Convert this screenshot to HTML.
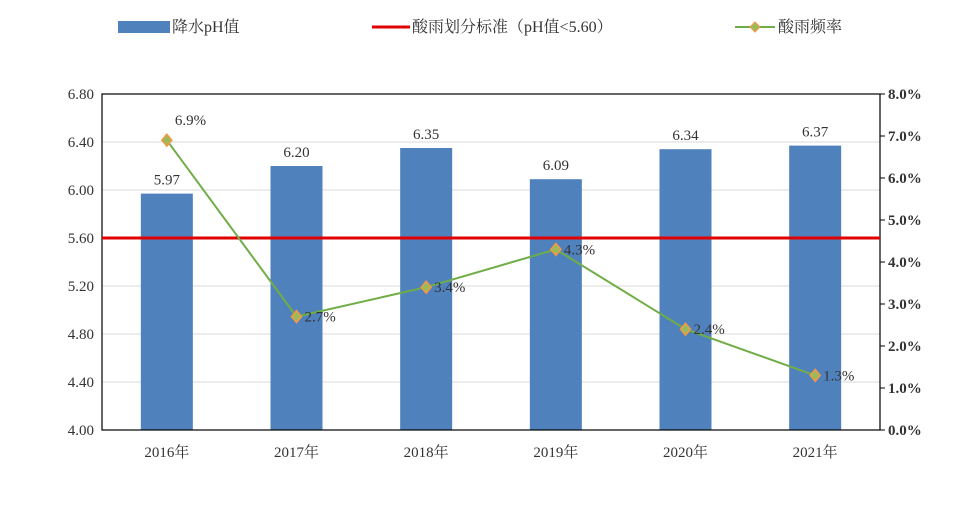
<!DOCTYPE html>
<html><head><meta charset="utf-8"><style>
body{margin:0;background:#fff;}
svg text{font-family:"Liberation Serif","Noto Serif CJK SC",serif;}
</style></head><body>
<svg width="970" height="506" viewBox="0 0 970 506">
<g>
  <g><rect x="118" y="21" width="52" height="12" fill="#4f81bd"/><text x="172" y="32" font-size="16" fill="#333">降水pH值</text></g>
  <g><line x1="372" y1="27" x2="410" y2="27" stroke="#e00000" stroke-width="3"/><text x="412" y="32" font-size="16" fill="#333">酸雨划分标准（pH值&lt;5.60）</text></g>
  <g><line x1="735" y1="27" x2="775" y2="27" stroke="#70ad47" stroke-width="2"/><polygon points="755,22 760,27 755,32 750,27" fill="#9bbb59" stroke="#f79646" stroke-width="1"/><text x="778" y="32" font-size="16" fill="#333">酸雨频率</text></g>
</g>
<g id="grid"></g>
<g id="bars"></g>
<g id="axes"></g>
<g id="line"></g>
</svg>
<script>
const categories=["2016年","2017年","2018年","2019年","2020年","2021年"];
const phValues=[5.97,6.20,6.35,6.09,6.34,6.37];
const freqValues=[6.9,2.7,3.4,4.3,2.4,1.3];
const leftTicks=[4.00,4.40,4.80,5.20,5.60,6.00,6.40,6.80];
const rightTicks=[0,1,2,3,4,5,6,7,8];
const standard=5.60;
const NS="http://www.w3.org/2000/svg";
const X0=102,X1=880,Y0=430,Y1=94;
const yL=v=>Y0-(v-4)/(6.8-4)*(Y0-Y1);
const yR=v=>Y0-v/8*(Y0-Y1);
const bw=(X1-X0)/categories.length;
const xc=i=>X0+bw*(i+0.5);
function mk(tag,attrs,parent,txt){const e=document.createElementNS(NS,tag);for(const k in attrs)e.setAttribute(k,attrs[k]);if(txt!==undefined)e.textContent=txt;parent.appendChild(e);return e;}
const grid=document.getElementById('grid'),bars=document.getElementById('bars'),axes=document.getElementById('axes'),line=document.getElementById('line');
leftTicks.forEach(t=>{
  const g=mk('line',{x1:X0,x2:X1,y1:yL(t),y2:yL(t),stroke:'#d9d9d9','stroke-width':1},grid);
  
  
  const l=mk('text',{x:X0-8,y:yL(t)+5,'font-size':15,'text-anchor':'end',fill:'#333'},axes,t.toFixed(2));
  
  
});
rightTicks.forEach(t=>{
  const l=mk('text',{x:X1+8,y:yR(t)+5,'font-size':15,fill:'#333','font-weight':'bold'},axes,t.toFixed(1)+'%');
  
  
  const tk=mk('line',{x1:X1,x2:X1+5,y1:yR(t),y2:yR(t),stroke:'#000'},axes);
  
  
});
phValues.forEach((v,i)=>{
  const r=mk('rect',{x:xc(i)-26,y:yL(v),width:52,height:Y0-yL(v),fill:'#4f81bd'},bars);
  
  
  const t=mk('text',{x:xc(i),y:yL(v)-9,'font-size':15,'text-anchor':'middle',fill:'#333'},bars,v.toFixed(2));
  
  
  const c=mk('text',{x:xc(i),y:Y0+27,'font-size':15,'text-anchor':'middle',fill:'#333'},axes,categories[i]);
  
  
});
const border=mk('rect',{x:X0,y:Y1,width:X1-X0,height:Y0-Y1,fill:'none',stroke:'#000','stroke-width':1.2},axes);


const sl=mk('line',{x1:X0,x2:X1,y1:yL(standard),y2:yL(standard),stroke:'#e00000','stroke-width':3},line);


const pl=mk('polyline',{points:freqValues.map((v,i)=>xc(i)+','+yR(v)).join(' '),fill:'none',stroke:'#70ad47','stroke-width':2},line);


freqValues.forEach((v,i)=>{
  const x=xc(i),y=yR(v);
  const m=mk('polygon',{points:`${x},${y-6} ${x+5},${y} ${x},${y+6} ${x-5},${y}`,fill:'#9bbb59',stroke:'#f79646','stroke-width':1.5},line);
  
  
  const off=i===0?{dx:8,dy:-15}:{dx:8,dy:5};
  const t=mk('text',{x:x+off.dx,y:y+off.dy,'font-size':15,fill:'#333'},line,v.toFixed(1)+'%');
  
  
});
</script>
</body></html>
